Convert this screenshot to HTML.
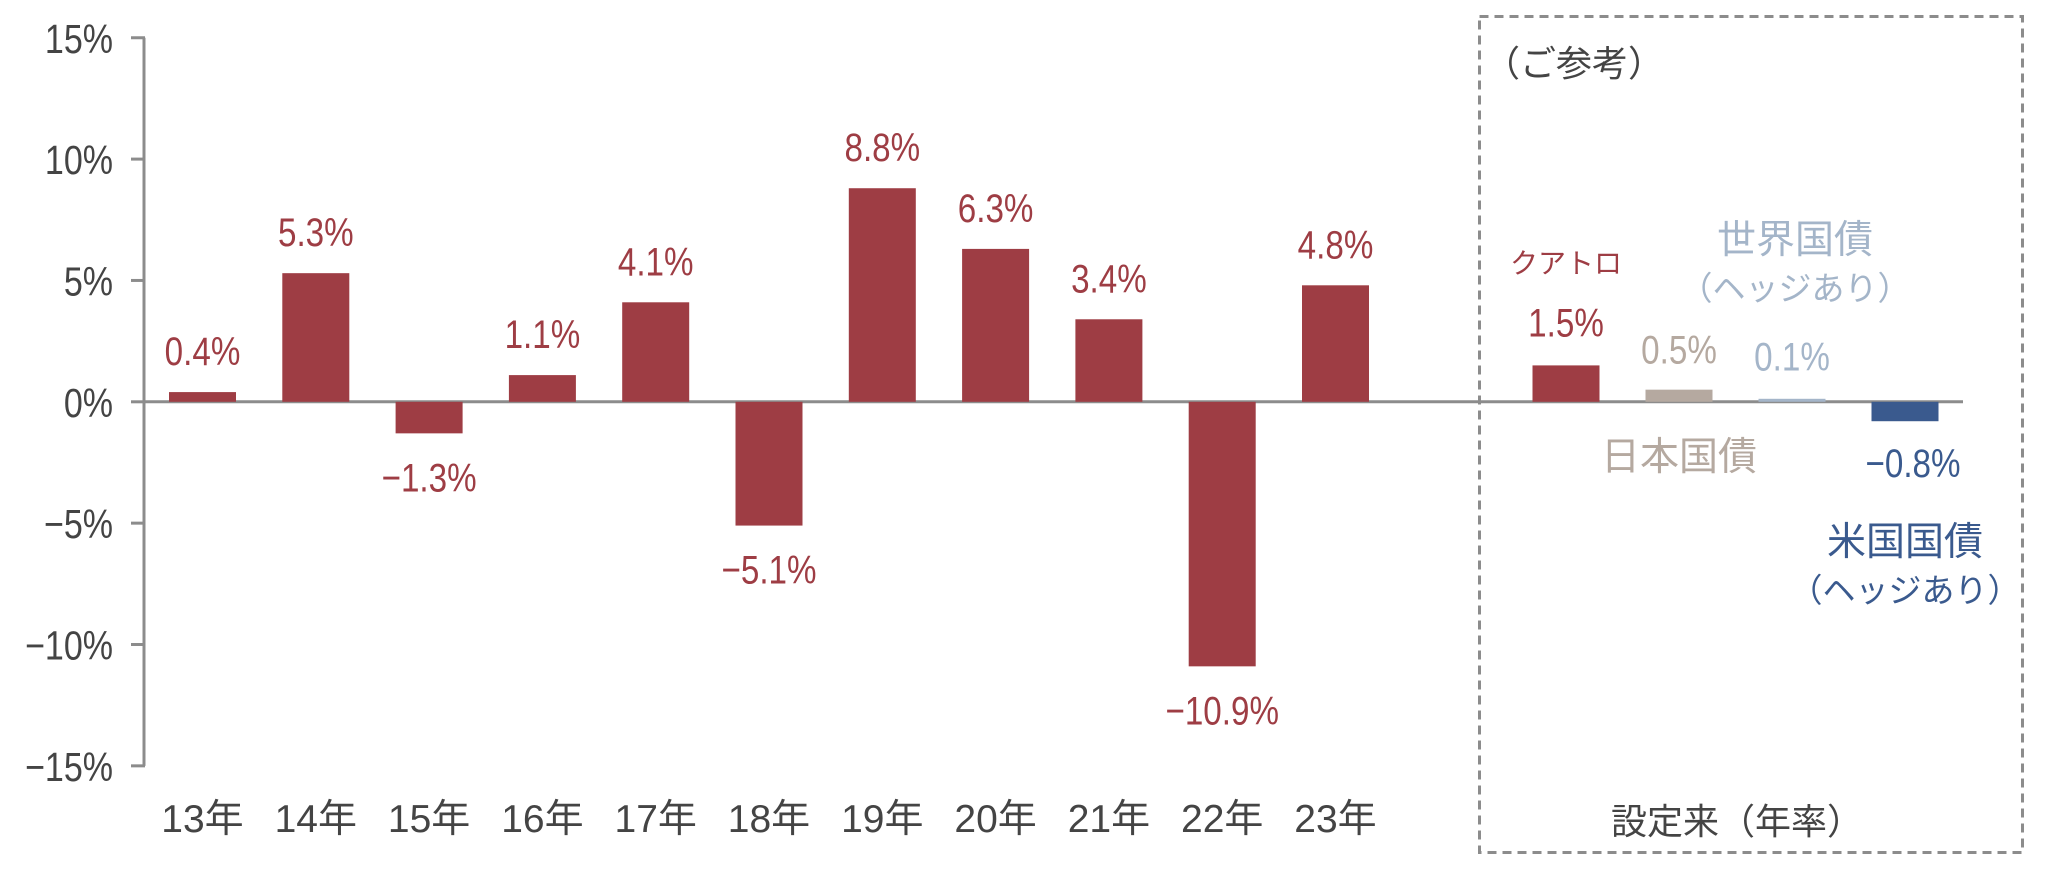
<!DOCTYPE html>
<html><head><meta charset="utf-8"><style>
html,body{margin:0;padding:0;background:#fff;}
svg{display:block;}
text{font-family:"Liberation Sans","Noto Sans CJK JP",sans-serif;}
</style></head><body>
<svg id="chart" width="2048" height="878" viewBox="0 0 2048 878" xmlns="http://www.w3.org/2000/svg">
<g id="axes"></g><g id="bars"></g><g id="labels"></g>
<rect x="1479.5" y="16.5" width="543" height="836" fill="none" stroke="#8c8c8c" stroke-width="3" stroke-dasharray="9,6"/>
<text x="1484" y="76" font-size="36" fill="#444">（ご参考）</text>
<text x="1737" y="834" font-size="36" fill="#444" text-anchor="middle">設定来（年率）</text>
<text x="1566" y="273" font-size="28" fill="#9e3d44" text-anchor="middle">クアトロ</text>
<text x="1795" y="253" font-size="39" fill="#a4b5c9" text-anchor="middle">世界国債</text>
<text x="1795" y="300" font-size="33" fill="#a4b5c9" text-anchor="middle">（ヘッジあり）</text>
<text x="1679" y="470" font-size="39" fill="#b5a9a0" text-anchor="middle">日本国債</text>
<text x="1905" y="555" font-size="39" fill="#3a5a8e" text-anchor="middle">米国国債</text>
<text x="1905" y="602" font-size="33" fill="#3a5a8e" text-anchor="middle">（ヘッジあり）</text>
</svg>
<script>
const categories=["13年","14年","15年","16年","17年","18年","19年","20年","21年","22年","23年"];
const values=[0.4,5.3,-1.3,1.1,4.1,-5.1,8.8,6.3,3.4,-10.9,4.8];
const refNames=["クアトロ","日本国債","世界国債","米国国債"];
const refValues=[1.5,0.5,0.1,-0.8];
const refColors=["#9e3d44","#b5a9a0","#a4b5c9","#3a5a8e"];
const yTicks=[15,10,5,0,-5,-10,-15];
const NS="http://www.w3.org/2000/svg";
const y0=401.8, pxPer=24.27;
function y(v){return y0-v*pxPer;}
function xc(i){return 202.5+i*113.3;}
function xr(i){return 1566+i*113;}
function mk(tag,attrs,parent,txt){const e=document.createElementNS(NS,tag);for(const k in attrs)e.setAttribute(k,attrs[k]);if(txt!==undefined)e.textContent=txt;parent.appendChild(e);return e;}
function ntext(x,yy,size,fill,anchor,txt,parent){return mk('text',{x:0,y:0,transform:'translate('+x+','+yy+') scale(0.83,1)','font-size':size,fill:fill,'text-anchor':anchor},parent,txt);}
const axes=document.getElementById('axes'),bars=document.getElementById('bars'),labels=document.getElementById('labels');
let a=mk('line',{x1:144,y1:y(15),x2:144,y2:y(-15),stroke:'#8c8c8c','stroke-width':3},axes);


let z=mk('line',{x1:144,y1:y(0),x2:1963,y2:y(0),stroke:'#8c8c8c','stroke-width':3},axes);


yTicks.forEach(t=>{
  let tk=mk('line',{x1:131,y1:y(t),x2:145,y2:y(t),stroke:'#8c8c8c','stroke-width':3},axes);
  
  
  let lb=ntext(113,y(t)+15,41,'#444','end',(t<0?'−':'')+Math.abs(t)+'%',axes);
  
  
});
categories.forEach((c,i)=>{
  const v=values[i];
  let r=mk('rect',{x:xc(i)-33.5,y:Math.min(y(v),y(0)),width:67,height:Math.abs(y(v)-y(0)),fill:'#9e3d44'},bars);
  
  
  let vl=ntext(xc(i),v>=0?y(v)-27:y(v)+58,40,'#9e3d44','middle',(v<0?'−':'')+Math.abs(v).toFixed(1)+'%',labels);
  
  
  let xl=mk('text',{x:xc(i),y:832,'font-size':39,fill:'#444','text-anchor':'middle'},labels,c);
  
  
});
const refOffsets=[-29,-26,-29,56];
refNames.forEach((n,i)=>{
  const v=refValues[i];
  let h=Math.max(Math.abs(y(v)-y(0)),3);
  let r=mk('rect',{x:xr(i)-33.5,y:v>=0?y(0)-h:y(0),width:67,height:h,fill:refColors[i]},bars);
  
  
  let vl=ntext(xr(i)+(i==3?8:0),y(v)+refOffsets[i],40,refColors[i],'middle',(v<0?'−':'')+Math.abs(v).toFixed(1)+'%',labels);
  
  
});
</script>
</body></html>
